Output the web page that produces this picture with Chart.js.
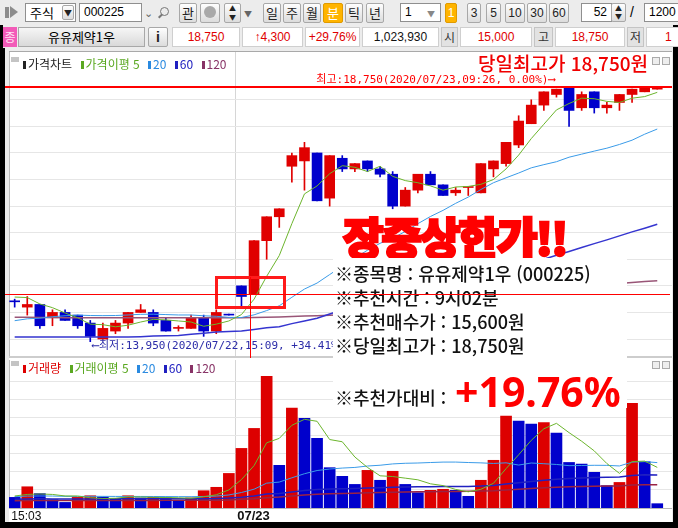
<!DOCTYPE html>
<html lang="ko">
<head>
<meta charset="utf-8">
<title>유유제약1우 1분봉</title>
<script src="https://cdn.jsdelivr.net/npm/chart.js@4.4.1/dist/chart.umd.min.js"></script>
<style>
  body { margin:0; width:678px; height:528px; background:#000; position:relative; overflow:hidden;
         font-family:"Noto Sans CJK KR","Noto Sans",sans-serif; }
  .a { position:absolute; box-sizing:border-box; }
  .box { background:#fff; border:1px solid #8f8f8f; }
  .btn { background:linear-gradient(#fefefe,#dcdcdc); border:1px solid #a8a8a8; border-radius:2px;
         text-align:center; font-size:13px; line-height:18px; color:#222; }
  .cell { top:27px; height:20px; background:#fff; border:1px solid #cfcfcf; color:#e00000;
          font:12px "Liberation Sans",sans-serif; line-height:18px; text-align:center; }
  .lab { top:27px; height:20px; background:#e2e2e2; border:1px solid #c4c4c4; font-size:12px;
         line-height:18px; text-align:center; color:#333; }
  .leg { font-size:12px; line-height:14px; white-space:nowrap; }
  .leg i { display:inline-block; width:3px; height:8px; margin:0 2px 0 5px; }
  .info { left:335px; font-size:18px; font-weight:500; line-height:24px; color:#111; white-space:nowrap; }
  canvas { position:absolute; }
</style>
</head>
<body>
<!-- window background -->
<div class="a" style="left:0;top:0;width:678px;height:25px;background:#ececec"></div>
<div class="a" style="left:3px;top:25px;width:670px;height:497px;background:#ececec"></div>

<!-- toolbar -->
<div class="a" style="left:5px;top:7px;width:4px;height:11px;background:#8c8c8c"></div>
<div class="a" style="left:10px;top:6px;border-left:8px solid #8c8c8c;border-top:6px solid transparent;border-bottom:6px solid transparent"></div>
<div class="a box" style="left:25px;top:3px;width:51px;height:19px;font-size:13px;line-height:17px;padding-left:4px">주식</div>
<div class="a btn" style="left:62px;top:5px;width:12px;height:15px;font-size:8px;line-height:13px">▼</div>
<div class="a box" style="left:79px;top:3px;width:63px;height:19px;font:12px 'Liberation Sans';line-height:17px;padding-left:4px">000225</div>
<div class="a" style="left:144px;top:4px;font-size:11px;color:#666">⌄</div>
<div class="a" style="left:160px;top:7px;width:9px;height:9px;border:1.5px solid #777;border-radius:50%"></div>
<div class="a" style="left:158px;top:15px;width:5px;height:2px;background:#777;transform:rotate(-45deg)"></div>
<div class="a btn" style="left:179px;top:3px;width:18px;height:20px">관</div>
<div class="a btn" style="left:200px;top:3px;width:20px;height:20px"></div>
<div class="a" style="left:204px;top:6px;width:12px;height:12px;border-radius:50%;background:#a9a9a9"></div>
<div class="a btn" style="left:224px;top:3px;width:17px;height:20px;font-size:7px;line-height:9px">▲<br>▼</div>
<div class="a" style="left:244px;top:8px;font-size:8px;color:#666">▼</div>
<div class="a btn" style="left:263px;top:3px;width:18px;height:20px">일</div>
<div class="a btn" style="left:283px;top:3px;width:18px;height:20px">주</div>
<div class="a btn" style="left:303px;top:3px;width:18px;height:20px">월</div>
<div class="a btn" style="left:323px;top:3px;width:20px;height:20px;background:#ffb400;border-color:#e09a00;color:#fff">분</div>
<div class="a btn" style="left:345px;top:3px;width:18px;height:20px">틱</div>
<div class="a btn" style="left:366px;top:3px;width:18px;height:20px">년</div>
<div class="a box" style="left:400px;top:3px;width:41px;height:19px;font:12px 'Liberation Sans';line-height:17px;padding-left:4px">1</div>
<div class="a" style="left:427px;top:8px;font-size:8px;color:#888">▼</div>
<div class="a btn" style="left:445px;top:3px;width:12px;height:20px;background:#ffb400;border-color:#e09a00;color:#fff;font:12px 'Liberation Sans';line-height:18px">1</div>
<div class="a btn" style="left:467px;top:3px;width:14px;height:20px;font:12px 'Liberation Sans';line-height:18px">3</div>
<div class="a btn" style="left:486px;top:3px;width:15px;height:20px;font:12px 'Liberation Sans';line-height:18px">5</div>
<div class="a btn" style="left:505px;top:3px;width:20px;height:20px;font:12px 'Liberation Sans';line-height:18px">10</div>
<div class="a btn" style="left:527px;top:3px;width:20px;height:20px;font:12px 'Liberation Sans';line-height:18px">30</div>
<div class="a btn" style="left:549px;top:3px;width:20px;height:20px;font:12px 'Liberation Sans';line-height:18px">60</div>
<div class="a box" style="left:581px;top:3px;width:31px;height:19px;font:12px 'Liberation Sans';line-height:17px;text-align:right;padding-right:4px">52</div>
<div class="a btn" style="left:611px;top:3px;width:15px;height:19px;font-size:7px;line-height:8px">▲<br>▼</div>
<div class="a" style="left:630px;top:4px;font:14px 'Liberation Sans'">/</div>
<div class="a box" style="left:644px;top:3px;width:40px;height:19px;font:12px 'Liberation Sans';line-height:17px;padding-left:4px">1200</div>

<!-- quote row -->
<div class="a" style="left:3px;top:27px;width:14px;height:20px;background:#f25bb8;color:#ffe0f4;font-size:12px;line-height:20px;text-align:center">종</div>
<div class="a" style="left:18px;top:27px;width:127px;height:20px;background:linear-gradient(#f6f6f6,#d9d9d9);border:1px solid #a8a8a8;font-size:13px;line-height:18px;text-align:center">유유제약1우</div>
<div class="a btn" style="left:148px;top:27px;width:20px;height:20px;font:bold 14px 'Liberation Sans';line-height:18px">i</div>
<div class="a cell" style="left:172px;width:68px">18,750</div>
<div class="a cell" style="left:242px;width:61px">↑4,300</div>
<div class="a cell" style="left:305px;width:55px">+29.76%</div>
<div class="a cell" style="left:362px;width:77px;color:#111">1,023,930</div>
<div class="a lab" style="left:441px;width:17px">시</div>
<div class="a cell" style="left:460px;width:72px">15,000</div>
<div class="a lab" style="left:534px;width:19px">고</div>
<div class="a cell" style="left:555px;width:70px">18,750</div>
<div class="a lab" style="left:627px;width:17px">저</div>
<div class="a cell" style="left:646px;width:40px;text-align:left;padding-left:18px">1</div>

<!-- panels -->
<div class="a" style="left:0;top:48px;width:5px;height:480px;background:#000"></div>
<div class="a" style="left:9px;top:51px;width:663px;height:471px;background:#fff;border-top:1px solid #a9a9a9"></div>
<canvas id="price" width="667" height="305" style="left:5px;top:52px"></canvas>
<canvas id="volume" width="667" height="165" style="left:5px;top:357px"></canvas>
<div class="a" style="left:9px;top:356px;width:663px;height:2px;background:#cdcdcd"></div>

<!-- panel legends -->
<div class="a" style="left:11px;top:57px;width:8px;height:5px;background:#c4c4c4"></div>
<div class="a leg" style="left:18px;top:57px">
  <span style="color:#222"><i style="background:#222"></i>가격차트</span>
  <span style="color:#5aa821"><i style="background:#5aa821"></i>가격이평 5</span>
  <span style="color:#2a8ae0"><i style="background:#2a8ae0"></i>20</span>
  <span style="color:#2020c0"><i style="background:#2020c0"></i>60</span>
  <span style="color:#883366"><i style="background:#883366"></i>120</span>
</div>
<div class="a" style="left:11px;top:361px;width:8px;height:5px;background:#c4c4c4"></div>
<div class="a leg" style="left:18px;top:361px">
  <span style="color:#dd0000"><i style="background:#dd0000"></i>거래량</span>
  <span style="color:#5aa821"><i style="background:#5aa821"></i>거래이평 5</span>
  <span style="color:#2a8ae0"><i style="background:#2a8ae0"></i>20</span>
  <span style="color:#2020c0"><i style="background:#2020c0"></i>60</span>
  <span style="color:#883366"><i style="background:#883366"></i>120</span>
</div>
<div class="a" style="left:652px;top:57px;width:8px;height:8px;border:1px solid #aaa;background:#eee"></div>
<div class="a" style="left:662px;top:57px;width:8px;height:8px;border:1px solid #aaa;background:#eee"></div>
<div class="a" style="left:652px;top:361px;width:8px;height:8px;border:1px solid #aaa;background:#eee"></div>
<div class="a" style="left:662px;top:361px;width:8px;height:8px;border:1px solid #aaa;background:#eee"></div>

<!-- annotations -->
<div class="a" style="left:478px;top:51px;font-size:19px;font-weight:500;line-height:24px;color:#f00000;white-space:nowrap">당일최고가 18,750원</div>
<div class="a" style="left:215px;top:276px;width:71px;height:33px;border:3px solid #ff1a1a"></div>
<div class="a" style="left:343px;top:210px;font-size:44px;font-weight:900;line-height:52px;color:#ff0000;letter-spacing:-2px;-webkit-text-stroke:2.5px #ff0000;white-space:nowrap">장중상한가!!</div>
<div class="a" style="left:333px;top:258px;width:294px;height:150px;background:#fff"></div>
<div class="a info" style="top:261px">※종목명 : 유유제약1우 (000225)</div>
<div class="a info" style="top:285px">※추천시간 : 9시02분</div>
<div class="a info" style="top:309px">※추천매수가 : 15,600원</div>
<div class="a info" style="top:333px">※당일최고가 : 18,750원</div>
<div class="a info" style="top:385px">※추천가대비 :</div>
<div class="a" style="left:455px;top:363px;font:bold 41px 'Noto Sans',sans-serif;line-height:56px;color:#ff0000;white-space:nowrap">+19.76%</div>
<!-- cursor crosshair -->
<div class="a" style="left:5px;top:294px;width:665px;height:1px;background:#ff0000"></div>
<div class="a" style="left:250px;top:277px;width:1px;height:81px;background:#ff0000"></div>

<script>
// 1-minute candles, 2020/07/22 15:03 ~ 2020/07/23 09:33
const times = ['15:03','15:04','15:05','15:06','15:07','15:08','15:09','15:10','15:11','15:12',
  '15:13','15:14','15:15','15:16','15:17','15:18','15:19','15:30',
  '09:00','09:01','09:02','09:03','09:04','09:05','09:06','09:07','09:08','09:09',
  '09:10','09:11','09:12','09:13','09:14','09:15','09:16','09:17','09:18','09:19',
  '09:20','09:21','09:22','09:23','09:24','09:25','09:26','09:27','09:28','09:29',
  '09:30','09:31','09:32','09:33'];
const sessionDates = ['2020/07/22', '2020/07/23'];
const sessionStart = [0, 18];

const opens  = [14700,14600,14650,14400,14500,14450,14300,14000,14150,14300,14500,14500,14350,14200,14200,14400,14150,14450,
  15000,14850,15850,16300,17250,17350,17500,16650,17400,17200,17350,17200,17100,16500,16800,17100,16900,16750,16850,16750,
  17200,17300,17650,18050,18400,18600,18750,18350,18650,18350,18450,18600,18650,18700];
const highs  = [14750,14800,14650,14550,14550,14450,14350,14300,14350,14500,14650,14550,14400,14250,14450,14450,14550,14450,
  15000,15850,16300,16450,17500,17700,17500,17450,17450,17300,17350,17250,17150,16850,17100,17150,16900,16850,16850,17300,
  17350,17700,18200,18500,18650,18700,18750,18650,18650,18450,18600,18700,18750,18750];
const lows   = [14600,14450,14200,14250,14350,14200,13950,14000,14100,14200,14500,14250,14150,14150,14200,14050,14100,14450,
  14600,14850,15500,16100,16950,16800,16600,16500,17150,17150,17150,17050,16450,16500,16750,16900,16700,16700,16700,16750,
  17050,17250,17600,18050,18300,18550,18000,18300,18250,18250,18300,18450,18650,18700];
const closes = [14700,14650,14250,14500,14350,14250,14050,14200,14300,14500,14550,14300,14150,14200,14400,14150,14500,14450,
  14800,15850,16300,16450,17450,17600,16600,17450,17200,17300,17200,17100,16500,16800,17100,16900,16700,16800,16850,17300,
  17350,17700,18100,18400,18650,18700,18300,18600,18350,18400,18600,18700,18750,18750];
// closes before the first visible candle (needed for the 5/20 averages)
const prevCloses = [13950,14000,13950,14000,14000,14200,14250,14250,14300,14300,14250,14300,14350,14400,14450,14700,14850,14850,14850];
// 60/120 averages (their history is off-screen)
const ma60 = [14040,14040,14040,14040,14040,14040,14040,14040,14040,14040,14045,14055,14060,14065,14090,14110,14130,14140,
  14150,14180,14210,14230,14290,14340,14390,14470,14545,14610,14670,14730,14790,14845,14905,14965,15025,15085,15140,15200,
  15265,15320,15380,15440,15500,15575,15645,15720,15795,15865,15940,16015,16085,16160];
const ma120 = [14410,14410,14405,14405,14400,14400,14400,14400,14400,14400,14400,14400,14400,14400,14400,14400,14400,14400,
  14400,14405,14410,14416,14424,14432,14440,14447,14455,14480,14508,14536,14564,14592,14620,14648,14676,14704,14732,14760,
  14788,14816,14844,14872,14900,14928,14956,14984,15012,15029,15046,15063,15080,15097];

const volumes = [5900,11800,8000,4600,3100,5900,6800,6100,5200,6800,5600,5900,5700,4300,5600,9600,11500,19200,
  33100,44200,73100,23700,55500,49800,38700,22400,17600,13100,20900,15400,20400,13100,8500,9800,10400,9800,6500,15400,
  26500,51100,48300,46600,47500,41600,25300,24400,19800,12400,14200,58100,25700,2400];
const prevVolumes = [5700,6800,5400,6100,7600,5000,6500,5900,7200,5600,6300,6700,5200,6100,6800,7400,6700,5900,7400];
const volMa60 = [4910,5020,5070,5060,5020,5040,5060,5080,5080,5110,5110,5120,5130,5120,5130,5200,5300,5540,
  6010,6660,7800,8100,8940,9680,10240,10530,10730,10870,11130,11290,11550,11680,11740,11810,11900,11980,12000,12170,
  12520,13290,14010,14700,15410,16010,16350,16670,16920,17040,17190,18060,18410,18360];
const volMa120 = [4070,4130,4160,4160,4150,4160,4180,4190,4190,4210,4220,4230,4240,4240,4250,4290,4350,4470,
  4800,5130,5710,6100,6700,7200,7600,7900,8100,8250,8450,8600,8800,8900,8980,9060,9150,9230,9280,9400,
  9620,10050,10450,10830,11220,11560,11750,11930,12070,12150,12250,12720,12910,12900];

const priceGrid = [14000,14500,15000,15500,16000,16500,17000,17500,18000,18500];
const volumeGrid = [10000,20000,30000,40000,50000,60000,70000];

const N = closes.length;
const UP = '#e00000', DOWN = '#0000cc';

function sma(series, prior, n) {
  const all = prior.concat(series);
  return series.map((_, i) => {
    const end = prior.length + i;
    let s = 0;
    for (let k = end - n + 1; k <= end; k++) s += all[k];
    return s / n;
  });
}
const ma5 = sma(closes, prevCloses, 5);
const ma20 = sma(closes, prevCloses, 20);
const volMa5 = sma(volumes, prevVolumes, 5);
const volMa20 = sma(volumes, prevVolumes, 20);

const candleColors = closes.map((c, i) => {
  if (c > opens[i]) return UP;
  if (c < opens[i]) return DOWN;
  const prev = i > 0 ? closes[i - 1] : prevCloses[prevCloses.length - 1];
  return c >= prev ? UP : DOWN;
});
const volumeColors = volumes.map((v, i) => {
  const prev = i > 0 ? volumes[i - 1] : prevVolumes[prevVolumes.length - 1];
  return v > prev ? '#dd0000' : '#0000cc';
});

function dayOf(i) {
  let d = sessionDates[0];
  sessionStart.forEach((s, k) => { if (i >= s) d = sessionDates[k]; });
  return d;
}
const fmt = v => v.toLocaleString('en-US');
const pct = (now, ref) => {
  const p = (now - ref) / ref * 100;
  return (p > 0 ? '+' : '') + p.toFixed(2) + '%';
};

const line = (arr, color, w) => ({
  type: 'line', data: arr.map((v, i) => ({x: i, y: v})),
  borderColor: color, borderWidth: w, pointRadius: 0, tension: 0, order: 0
});

const xAxis = () => ({
  type: 'linear', min: -0.45, max: 52.17, offset: false,
  ticks: {display: false},
  grid: {drawTicks: false, offset: false, color: '#d6d6d6'},
  border: {display: false},
  afterBuildTicks: ax => { ax.ticks = sessionStart.slice(1).map(s => ({value: s - 0.5})); }
});

// max / min price marks
const priceMarks = {
  id: 'priceMarks',
  afterDatasetsDraw(chart) {
    const {ctx, scales: {x, y}} = chart;
    const hi = Math.max(...highs), iHi = highs.indexOf(hi);
    const lo = Math.min(...lows), iLo = lows.indexOf(lo);
    const last = closes[N - 1];
    const yHi = y.getPixelForValue(hi), yLo = y.getPixelForValue(lo);
    ctx.save();
    ctx.fillStyle = '#ff0000';
    ctx.fillRect(0, Math.round(yHi) - 1, chart.width, 2);
    ctx.font = '11px "DejaVu Sans Mono", "Noto Sans CJK KR", monospace';
    ctx.textAlign = 'right';
    ctx.textBaseline = 'bottom';
    ctx.fillText('최고:' + fmt(hi) + '(' + dayOf(iHi) + ',' + times[iHi] + ', ' + pct(last, hi).replace('+', '') + ')⟶',
      x.getPixelForValue(iHi) - 14, yHi - 1);
    ctx.fillStyle = '#2b2ba8';
    ctx.textAlign = 'left';
    ctx.textBaseline = 'top';
    ctx.fillText('⟵최저:' + fmt(lo) + '(' + dayOf(iLo) + ',' + times[iLo] + ', ' + pct(last, lo) + ')',
      x.getPixelForValue(iLo) + 2, yLo - 1);
    ctx.restore();
  }
};

const timeLabels = {
  id: 'timeLabels',
  afterDraw(chart) {
    const {ctx, chartArea, scales: {x}} = chart;
    ctx.save();
    ctx.fillStyle = '#111';
    ctx.textAlign = 'left';
    ctx.textBaseline = 'top';
    ctx.font = '12px "Liberation Sans", sans-serif';
    ctx.fillText(times[0], x.getPixelForValue(-0.5) + 3, chartArea.bottom + 3);
    ctx.font = 'bold 13px "Liberation Sans", sans-serif';
    sessionStart.slice(1).forEach((s, k) => {
      ctx.fillText(sessionDates[k + 1].slice(5), x.getPixelForValue(s - 0.5) + 2, chartArea.bottom + 2);
    });
    ctx.restore();
  }
};

const idx = closes.map((_, i) => i);

new Chart(document.getElementById('price'), {
  type: 'bar',
  data: {
    datasets: [
      line(ma5, '#6cb52d', 1),
      line(ma20, '#3a9be8', 1),
      line(ma60, '#3535d0', 1.5),
      line(ma120, '#995577', 1.5),
      {data: idx.map(i => ({x: i, y: [opens[i], closes[i]]})), backgroundColor: candleColors,
       barThickness: 10, minBarLength: 1, grouped: false, order: 1},
      {data: idx.map(i => ({x: i, y: [lows[i], highs[i]]})), backgroundColor: candleColors,
       barThickness: 1, minBarLength: 1, grouped: false, order: 2}
    ]
  },
  options: {
    responsive: false, animation: false, events: [],
    layout: {padding: {left: 4, top: 0, right: 0, bottom: 0}},
    plugins: {legend: {display: false}, tooltip: {enabled: false}},
    scales: {
      x: xAxis(),
      y: {
        min: 13662, max: 19399,
        ticks: {display: false},
        grid: {drawTicks: false, color: '#e6e6e6'},
        border: {display: true, color: '#bdbdbd'},
        afterBuildTicks: ax => { ax.ticks = priceGrid.map(v => ({value: v})); }
      }
    }
  },
  plugins: [priceMarks]
});

new Chart(document.getElementById('volume'), {
  type: 'bar',
  data: {
    datasets: [
      line(volMa5, '#6cb52d', 1),
      line(volMa20, '#3a9be8', 1),
      line(volMa60, '#2020c0', 1.5),
      line(volMa120, '#992244', 1.5),
      {data: idx.map(i => ({x: i, y: volumes[i]})), backgroundColor: volumeColors,
       barThickness: 11, grouped: false, order: 1}
    ]
  },
  options: {
    responsive: false, animation: false, events: [],
    layout: {padding: {left: 4, top: 3, right: 0, bottom: 14}},
    plugins: {legend: {display: false}, tooltip: {enabled: false}},
    scales: {
      x: Object.assign(xAxis(), {border: {display: true, color: '#b8b8b8'}}),
      y: {
        min: 0, max: 82200,
        ticks: {display: false},
        grid: {drawTicks: false, color: '#e6e6e6'},
        border: {display: true, color: '#bdbdbd'},
        afterBuildTicks: ax => { ax.ticks = volumeGrid.map(v => ({value: v})); }
      }
    }
  },
  plugins: [timeLabels]
});
</script>
</body>
</html>
